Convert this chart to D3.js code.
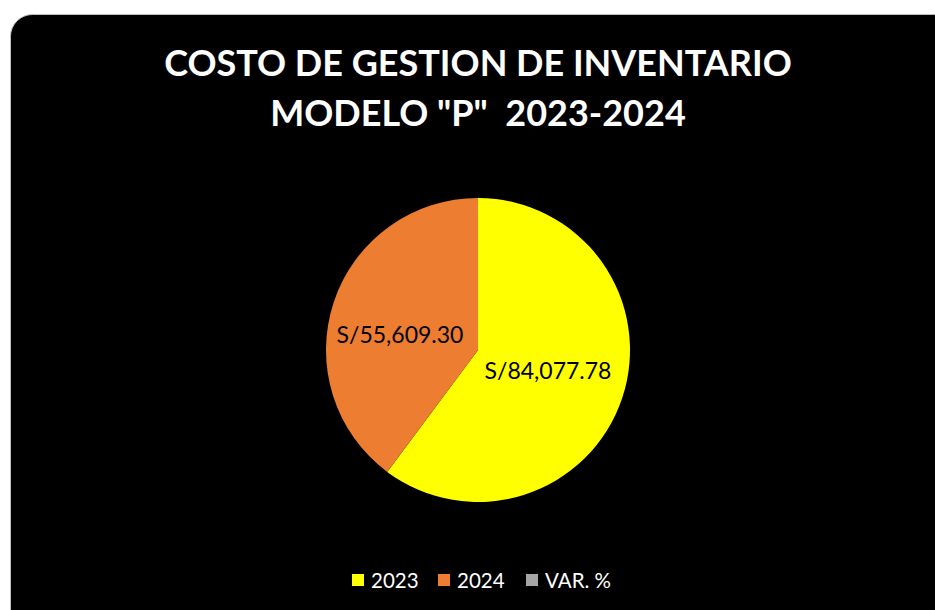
<!DOCTYPE html>
<html><head><meta charset="utf-8">
<script src="https://cdn.jsdelivr.net/npm/d3@7/dist/d3.min.js"></script>
<style>html,body{margin:0;padding:0;background:#fff;}svg{display:block;}</style>
</head><body>
<svg id="c" width="935" height="610"></svg>
<script>
const categories = ["2023", "2024", "VAR. %"];
const values = [84077.78, 55609.30, 0];
const labels = ["S/84,077.78", "S/55,609.30", ""];
const colors = ["#FFFF00", "#ED7D31", "#A5A5A5"];
const titleLines = ["COSTO DE GESTION DE INVENTARIO", "MODELO \"P\"  2023-2024"];

const svg = d3.select("#c");
const font = "Lato, 'Open Sans', sans-serif";
svg.append("rect").attr("x", 10.5).attr("y", 14.5).attr("width", 945).attr("height", 620)
  .attr("rx", 22).attr("fill", "#000").attr("stroke", "#bfbfbf").attr("stroke-width", 1);

svg.append("g").selectAll("text").data(titleLines).join("text")
  .attr("x", 478).attr("y", (d, i) => 76 + i * 50)
  .attr("text-anchor", "middle").attr("fill", "#fff")
  .style("white-space", "pre")
  .attr("font-family", font).attr("font-weight", "bold").attr("font-size", 36)
  .text(d => d);

const cx = 478, cy = 350, r = 152;
const pie = d3.pie().sort(null).value(d => d.v);
const data = categories.map((c, i) => ({c, v: values[i], l: labels[i], col: colors[i]}));
const arcs = pie(data);
const arc = d3.arc().innerRadius(0).outerRadius(r);
const g = svg.append("g").attr("transform", `translate(${cx},${cy})`);
g.selectAll("path").data(arcs).join("path").attr("d", arc).attr("fill", d => d.data.col);

const lab = [[70, 20], [-78, -16]];
g.selectAll("text.l").data(arcs.filter(d => d.data.l)).join("text").attr("class", "l")
  .attr("x", (d, i) => lab[i][0]).attr("y", (d, i) => lab[i][1])
  .attr("text-anchor", "middle").attr("dominant-baseline", "central")
  .attr("font-family", font).attr("font-size", 23).attr("fill", "#000")
  .text(d => d.data.l);

const legX = [352, 438, 526];
const leg = svg.append("g").selectAll("g").data(data).join("g")
  .attr("transform", (d, i) => `translate(${legX[i]},574)`);
leg.append("rect").attr("width", 12).attr("height", 12).attr("fill", d => d.col);
leg.append("text").attr("x", 19).attr("y", 6).attr("dominant-baseline", "central")
  .attr("font-family", font).attr("font-size", 20.5).attr("fill", "#fff").text(d => d.c);
</script>
</body></html>
